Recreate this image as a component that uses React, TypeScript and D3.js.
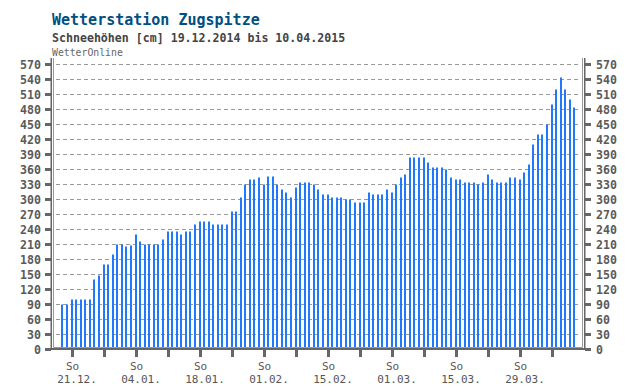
import React from "react";
import * as d3 from "d3";

// Schneehöhen Zugspitze, one value per day from 19.12.2014
const START_DAY = "2014-12-19";
const snowDepth = [
  90, 90, 100, 100, 100, 100, 100, 140, 148, 170,
  170, 190, 210, 210, 206, 208, 230, 216, 210, 210,
  210, 210, 220, 236, 236, 236, 230, 236, 236, 250,
  256, 256, 256, 250, 250, 250, 250, 276, 276, 304,
  330, 340, 340, 344, 330, 346, 346, 330, 320, 314,
  304, 324, 334, 334, 334, 330, 320, 310, 310, 304,
  304, 304, 300, 300, 294, 294, 294, 314, 310, 310,
  310, 320, 314, 330, 344, 350, 384, 384, 384, 384,
  374, 364, 364, 364, 360, 344, 340, 340, 334, 334,
  334, 330, 334, 350, 340, 334, 334, 334, 344, 344,
  340, 354, 370, 410, 430, 430, 450, 490, 520, 544,
  520, 500, 484,
];
const yTickValues = d3.range(0, 571, 30);
const weekdayLabel = "So";

const title = "Wetterstation Zugspitze";
const subtitle = "Schneehöhen [cm] 19.12.2014 bis 10.04.2015";
const source = "WetterOnline";

const W = 640;
const H = 390;
const FONT = "'DejaVu Sans Mono', monospace";

export default function App() {
  const start = new Date(START_DAY + "T00:00:00Z");
  const days = snowDepth.map((_, i) => d3.utcDay.offset(start, i));

  const firstSunday = d3.utcSunday.ceil(start);
  const lastSunday = d3.utcSunday.floor(days[days.length - 1]);

  const x = d3.scaleUtc().domain([firstSunday, lastSunday]).range([72, 552]);
  const y = d3.scaleLinear().domain([0, 570]).range([349.5, 64.5]);

  const sundays = d3.utcSunday.range(firstSunday, d3.utcDay.offset(lastSunday, 1));
  const fmt = d3.utcFormat("%d.%m.");
  const px = (d: Date) => Math.floor(x(d) + 1e-6);

  const left = 53.5;
  const right = 582.5;
  const bottom = 347.5;
  const top = 58;

  return (
    <svg
      width={W}
      height={H}
      style={{ position: "absolute", left: 0, top: 0, background: "#fff" }}
      fontFamily={FONT}
    >
      <text x={52} y={25} fontSize={15} fontWeight="bold" fill="#00507f">
        {title}
      </text>
      <text x={52} y={42} fontSize={11.6} fontWeight="bold" fill="#444">
        {subtitle}
      </text>
      <text x={52} y={56} fontSize={9.8} fill="#666">
        {source}
      </text>

      {/* dashed grid */}
      {yTickValues.filter((v) => v > 0).map((v) => (
        <line
          key={"g" + v}
          x1={56}
          x2={580}
          y1={y(v)}
          y2={y(v)}
          stroke="#9a9a9a"
          strokeWidth={1}
          strokeDasharray="4,3"
        />
      ))}

      {/* bars */}
      {days.map((d, i) => (
        <rect
          key={"b" + i}
          x={px(d) - 1}
          width={2}
          y={y(snowDepth[i])}
          height={bottom - 0.5 - y(snowDepth[i])}
          fill="#1f78fe"
        />
      ))}

      {/* inner frame */}
      <path
        d={`M${left},${top}V${bottom}H${right}V${top}`}
        fill="none"
        stroke="#999"
        strokeWidth={1}
      />

      {/* axis lines */}
      <line x1={51.25} x2={51.25} y1={top} y2={350} stroke="#666" strokeWidth={1.5} />
      <line x1={584.75} x2={584.75} y1={top} y2={350} stroke="#666" strokeWidth={1.5} />
      <line x1={45} x2={591} y1={349} y2={349} stroke="#666" strokeWidth={2} />

      {/* y ticks and labels, both sides */}
      {yTickValues.map((v) => {
        const yy = Math.floor(y(v));
        return (
          <g key={"y" + v}>
            <rect x={45} y={yy - 1} width={6} height={3} fill="#666" />
            <rect x={585} y={yy - 1} width={6} height={3} fill="#666" />
            <text
              x={41}
              y={yy + 0.5}
              dy="0.35em"
              textAnchor="end"
              fontSize={11.6}
              fontWeight="bold"
              fill="#5a5a5a"
            >
              {v}
            </text>
            <text
              x={596}
              y={yy + 0.5}
              dy="0.35em"
              textAnchor="start"
              fontSize={11.6}
              fontWeight="bold"
              fill="#5a5a5a"
            >
              {v}
            </text>
          </g>
        );
      })}

      {/* x ticks and labels */}
      {sundays.map((d, i) => {
        const xx = px(d);
        return (
          <g key={"x" + i}>
            <rect x={xx - 1} y={350} width={3} height={7} fill="#666" />
            {i % 2 === 0 && (
              <>
                <text x={xx + 0.5} y={369.5} textAnchor="middle" fontSize={11} fill="#555">
                  {weekdayLabel}
                </text>
                <text x={xx + 5} y={383} textAnchor="middle" fontSize={11} fill="#555">
                  {fmt(d)}
                </text>
              </>
            )}
          </g>
        );
      })}
    </svg>
  );
}
